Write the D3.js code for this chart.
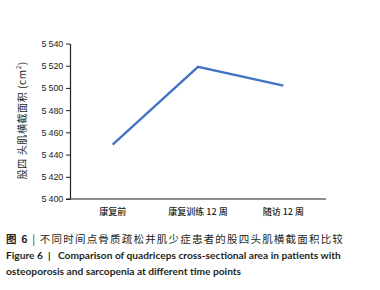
<!DOCTYPE html>
<html lang="zh">
<head>
<meta charset="UTF-8">
<title>Figure 6</title>
<script src="https://d3js.org/d3.v7.min.js"></script>
<style>
    body { margin: 0; background: #fff; }
    svg { display: block; }
    .cap { font-family: "Noto Sans CJK SC", "Noto Sans", sans-serif; fill: #231f20; white-space: pre; }
</style>
</head>
<body>
<div id="chart"></div>
<script>
    // data
    var categories = ['康复前', '康复训练 12 周', '随访 12 周'];
    var areaValues = [5449, 5519, 5502];
    var yTicks = [5400, 5420, 5440, 5460, 5480, 5500, 5520, 5540];

    var width = 380, height = 290;
    // plot edges (avoid the name "top", it is window.top)
    var plotLeft = 70, plotRight = 326, plotTop = 43.5, plotBottom = 199;

    var svg = d3.select('#chart').append('svg')
        .attr('width', width)
        .attr('height', height);

    var xScale = d3.scaleBand()
        .domain(categories)
        .range([plotLeft, plotRight]);

    var yScale = d3.scaleLinear()
        .domain([5400, 5540])
        .range([plotBottom, plotTop]);

    var fmt = d => { var s = String(d); return s[0] + ' ' + s.slice(1); };

    // y axis
    var yAxis = svg.append('g')
        .attr('transform', 'translate(' + plotLeft + ',0)')
        .call(d3.axisLeft(yScale).tickValues(yTicks).tickFormat(fmt).tickSize(4).tickSizeOuter(0));
    yAxis.select('.domain').attr('stroke', '#231f20').attr('stroke-width', 1.2);
    yAxis.selectAll('.tick line').attr('stroke', '#231f20');
    yAxis.selectAll('text')
        .attr('x', -7)
        .style('font-family', '"Liberation Sans", Arial, sans-serif')
        .style('font-size', '9px')
        .style('letter-spacing', '-0.2px')
        .attr('fill', '#231f20');

    // x axis (line only, labels below)
    var xAxis = svg.append('g')
        .attr('transform', 'translate(0,' + plotBottom + ')')
        .call(d3.axisBottom(xScale).tickSize(0).tickSizeOuter(0));
    xAxis.select('.domain').attr('d', 'M' + (plotLeft - 4) + ',0H' + plotRight)
        .attr('stroke', '#231f20').attr('stroke-width', 1.2);
    xAxis.selectAll('text')
        .attr('y', 10)
        .style('font-family', '"Noto Sans CJK SC", sans-serif')
        .style('font-size', '9px')
        .style('font-weight', '500')
        .style('white-space', 'pre')
        .attr('fill', '#231f20');

    // line
    var line = d3.line()
        .x((d, i) => xScale(categories[i]) + xScale.bandwidth() / 2)
        .y(d => yScale(d));

    svg.append('path')
        .datum(areaValues)
        .attr('d', line)
        .attr('fill', 'none')
        .attr('stroke', '#4472c4')
        .attr('stroke-width', 2.3);

    // y axis title
    var yt = svg.append('text')
        .attr('transform', 'translate(26,' + ((plotTop + plotBottom) / 2 - 1) + ') rotate(-90)')
        .attr('text-anchor', 'middle')
        .style('font-family', '"Noto Sans CJK SC", sans-serif')
        .style('font-size', '10px')
        .style('letter-spacing', '0.6px')
        .style('white-space', 'pre')
        .attr('fill', '#231f20');
    yt.append('tspan').text('股四 头肌横截面积 (cm');
    yt.append('tspan').attr('baseline-shift', 'super').style('font-size', '6.5px').text('2');
    yt.append('tspan').text(')');

    // caption
    var c1 = svg.append('text').attr('class', 'cap')
        .attr('x', 6).attr('y', 243)
        .style('font-size', '10.5px')
        .style('letter-spacing', '1.2px');
    c1.append('tspan').style('font-weight', 'bold').text('图 6');
    c1.append('tspan').text(' | 不同时间点骨质疏松并肌少症患者的股四头肌横截面积比较');

    svg.append('text').attr('class', 'cap')
        .attr('x', 6).attr('y', 259)
        .style('font-family', 'Lato, "Noto Sans", sans-serif')
        .style('font-weight', 'bold')
        .style('font-size', '10.2px')
        .text('Figure 6  |   Comparison of quadriceps cross-sectional area in patients with');

    svg.append('text').attr('class', 'cap')
        .attr('x', 6).attr('y', 275)
        .style('font-family', 'Lato, "Noto Sans", sans-serif')
        .style('font-weight', 'bold')
        .style('font-size', '10.2px')
        .text('osteoporosis and sarcopenia at different time points');
</script>
</body>
</html>
